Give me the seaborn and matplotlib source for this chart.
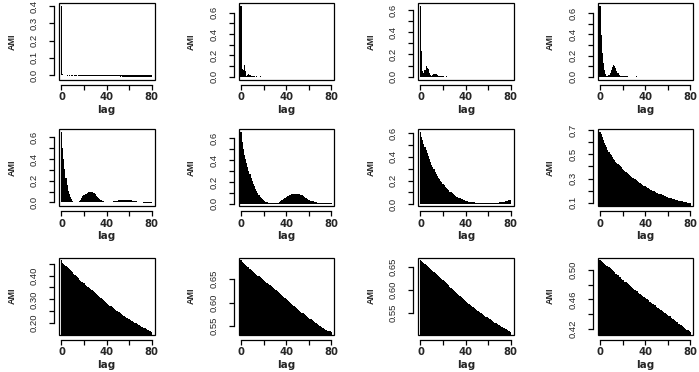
import pandas as pd
import seaborn as sns
import matplotlib.pyplot as plt
from matplotlib.patches import Rectangle

lags = list(range(81))

ami_1 = [0.404, 0.006, 0.002, -0.001, -0.002, -0.003, -0.002, -0.003, -0.002, -0.003,
         -0.003, -0.002, -0.003, -0.003, -0.002, -0.003, -0.004, -0.003, -0.003, -0.004,
         -0.003, -0.004, -0.003, -0.004, -0.004, -0.003, -0.004, -0.004, -0.005, -0.004,
         -0.004, -0.005, -0.004, -0.005, -0.005, -0.004, -0.005, -0.005, -0.006, -0.005,
         -0.006, -0.006, -0.005, -0.006, -0.007, -0.006, -0.007, -0.007, -0.008, -0.007,
         -0.008, -0.008, -0.009, -0.008, -0.009, -0.009, -0.010, -0.009, -0.010, -0.010,
         -0.010, -0.011, -0.010, -0.011, -0.011, -0.010, -0.011, -0.012, -0.011, -0.011,
         -0.012, -0.011, -0.012, -0.012, -0.011, -0.012, -0.012, -0.011, -0.012, -0.012,
         -0.010]
ami_2 = [0.667, 0.070, 0.060, 0.110, 0.050, 0.008, 0.012, 0.022, 0.020, 0.006,
         0.003, 0.002, 0.002, 0.001, 0.002, 0.001, 0.001, 0.002, 0.001, 0.001,
         0.001, 0.001, 0.000, 0.001, 0.001, 0.000, 0.001, 0.000, 0.001, 0.000,
         0.000, 0.001, 0.000, 0.000, 0.001, 0.000, 0.000, 0.000, 0.001, 0.000,
         0.000, 0.000, 0.000, 0.001, 0.000, 0.000, 0.000, 0.000, -0.001, 0.000,
         -0.001, -0.002, -0.003, -0.003, -0.004, -0.003, -0.004, -0.004, -0.003, -0.004,
         -0.004, -0.003, -0.004, -0.004, -0.004, -0.003, -0.004, -0.004, -0.004, -0.003,
         -0.004, -0.004, -0.003, -0.004, -0.004, -0.003, -0.004, -0.004, -0.004, -0.003,
         -0.003]
ami_3 = [0.640, 0.230, 0.053, 0.035, 0.060, 0.095, 0.080, 0.065, 0.030, 0.012,
         0.010, 0.015, 0.022, 0.024, 0.022, 0.018, 0.010, 0.005, 0.003, 0.002,
         0.002, 0.001, 0.001, 0.002, 0.001, 0.001, 0.001, 0.000, 0.001, 0.000,
         0.001, 0.000, 0.000, 0.001, 0.000, 0.000, 0.000, 0.000, 0.000, 0.000,
         0.000, 0.000, 0.000, 0.000, 0.000, 0.000, 0.000, 0.000, -0.001, -0.002,
         -0.003, -0.004, -0.004, -0.004, -0.004, -0.004, -0.004, -0.004, -0.004, -0.004,
         -0.004, -0.004, -0.004, -0.003, -0.002, 0.000, 0.000, 0.000, 0.000, 0.000,
         0.000, -0.002, -0.003, -0.003, -0.002, 0.000, 0.000, 0.000, 0.000, 0.001,
         0.001]
ami_4 = [0.672, 0.390, 0.228, 0.135, 0.060, 0.030, 0.012, 0.008, 0.020, 0.040,
         0.065, 0.090, 0.110, 0.105, 0.085, 0.058, 0.032, 0.014, 0.006, 0.005,
         0.006, 0.008, 0.009, 0.008, 0.006, 0.003, 0.002, 0.002, 0.001, 0.001,
         0.001, 0.002, 0.004, 0.002, 0.001, 0.000, 0.000, 0.000, 0.000, 0.000,
         0.000, 0.000, 0.000, 0.000, 0.000, 0.000, 0.000, 0.000, 0.000, 0.000,
         0.000, 0.000, 0.000, 0.000, 0.000, 0.000, 0.000, -0.002, -0.003, -0.003,
         -0.002, 0.000, 0.000, 0.000, 0.000, 0.000, 0.000, 0.000, 0.000, 0.000,
         0.000, 0.000, 0.000, 0.000, 0.000, 0.000, -0.002, -0.003, -0.003, -0.002,
         0.000]
ami_5 = [0.651, 0.500, 0.400, 0.310, 0.230, 0.160, 0.110, 0.076, 0.050, 0.030,
         0.015, 0.008, 0.004, 0.002, 0.002, 0.005, 0.012, 0.025, 0.040, 0.055,
         0.066, 0.075, 0.082, 0.088, 0.093, 0.096, 0.097, 0.095, 0.090, 0.083,
         0.074, 0.063, 0.052, 0.040, 0.030, 0.022, 0.015, 0.010, 0.006, 0.003,
         0.002, 0.002, 0.003, 0.004, 0.006, 0.008, 0.010, 0.012, 0.014, 0.016,
         0.018, 0.020, 0.021, 0.022, 0.023, 0.024, 0.024, 0.025, 0.025, 0.024,
         0.023, 0.022, 0.020, 0.018, 0.015, 0.012, 0.009, 0.007, 0.005, 0.003,
         0.002, 0.001, 0.000, -0.002, -0.004, -0.006, -0.008, -0.009, -0.009, -0.008,
         -0.006]
ami_6 = [0.660, 0.570, 0.500, 0.450, 0.410, 0.375, 0.340, 0.300, 0.270, 0.240,
         0.210, 0.185, 0.160, 0.135, 0.114, 0.095, 0.077, 0.062, 0.050, 0.039,
         0.030, 0.024, 0.018, 0.013, 0.010, 0.007, 0.005, 0.003, 0.002, 0.002,
         0.003, 0.005, 0.007, 0.010, 0.015, 0.022, 0.030, 0.038, 0.046, 0.054,
         0.061, 0.068, 0.074, 0.079, 0.083, 0.086, 0.089, 0.091, 0.092, 0.092,
         0.091, 0.088, 0.085, 0.080, 0.075, 0.069, 0.062, 0.055, 0.049, 0.043,
         0.037, 0.032, 0.028, 0.024, 0.020, 0.017, 0.014, 0.012, 0.010, 0.009,
         0.008, 0.007, 0.006, 0.006, 0.005, 0.005, 0.005, 0.004, 0.004, 0.003,
         0.003]
ami_7 = [0.610, 0.570, 0.540, 0.510, 0.480, 0.455, 0.430, 0.405, 0.385, 0.360,
         0.335, 0.315, 0.295, 0.275, 0.258, 0.242, 0.226, 0.212, 0.198, 0.185,
         0.172, 0.160, 0.148, 0.137, 0.127, 0.117, 0.108, 0.100, 0.092, 0.085,
         0.078, 0.072, 0.066, 0.060, 0.055, 0.050, 0.046, 0.042, 0.038, 0.035,
         0.032, 0.029, 0.026, 0.024, 0.022, 0.020, 0.019, 0.017, 0.016, 0.015,
         0.014, 0.013, 0.012, 0.011, 0.010, 0.010, 0.009, 0.009, 0.008, 0.008,
         0.008, 0.008, 0.009, 0.009, 0.010, 0.011, 0.012, 0.013, 0.014, 0.015,
         0.016, 0.018, 0.019, 0.021, 0.023, 0.025, 0.028, 0.031, 0.034, 0.037,
         0.041]
ami_8 = [0.686, 0.665, 0.642, 0.618, 0.597, 0.578, 0.559, 0.540, 0.522, 0.507,
         0.492, 0.477, 0.463, 0.451, 0.440, 0.430, 0.420, 0.410, 0.401, 0.392,
         0.383, 0.374, 0.365, 0.356, 0.347, 0.338, 0.329, 0.322, 0.315, 0.308,
         0.301, 0.294, 0.287, 0.280, 0.273, 0.266, 0.260, 0.254, 0.248, 0.242,
         0.236, 0.230, 0.224, 0.219, 0.214, 0.209, 0.204, 0.199, 0.194, 0.190,
         0.185, 0.181, 0.177, 0.173, 0.169, 0.165, 0.161, 0.157, 0.153, 0.150,
         0.146, 0.143, 0.140, 0.137, 0.134, 0.131, 0.129, 0.126, 0.124, 0.121,
         0.119, 0.117, 0.114, 0.112, 0.110, 0.107, 0.105, 0.103, 0.101, 0.098,
         0.095]
ami_9 = [0.464, 0.455, 0.448, 0.443, 0.439, 0.435, 0.431, 0.427, 0.423, 0.418,
         0.413, 0.408, 0.403, 0.398, 0.393, 0.388, 0.383, 0.379, 0.375, 0.371,
         0.367, 0.362, 0.358, 0.354, 0.350, 0.346, 0.342, 0.338, 0.334, 0.330,
         0.326, 0.322, 0.318, 0.314, 0.310, 0.306, 0.302, 0.298, 0.294, 0.290,
         0.286, 0.282, 0.278, 0.274, 0.271, 0.267, 0.263, 0.259, 0.256, 0.252,
         0.249, 0.245, 0.242, 0.239, 0.235, 0.232, 0.229, 0.225, 0.222, 0.219,
         0.216, 0.213, 0.210, 0.207, 0.204, 0.201, 0.199, 0.196, 0.193, 0.191,
         0.188, 0.185, 0.183, 0.180, 0.178, 0.175, 0.173, 0.171, 0.168, 0.166,
         0.163]
ami_10 = [0.689, 0.686, 0.684, 0.682, 0.680, 0.678, 0.676, 0.674, 0.671, 0.669,
          0.667, 0.665, 0.663, 0.661, 0.659, 0.657, 0.655, 0.654, 0.652, 0.650,
          0.648, 0.646, 0.644, 0.642, 0.640, 0.638, 0.636, 0.634, 0.632, 0.630,
          0.628, 0.626, 0.624, 0.622, 0.620, 0.618, 0.616, 0.614, 0.611, 0.609,
          0.607, 0.605, 0.603, 0.601, 0.599, 0.597, 0.595, 0.593, 0.591, 0.589,
          0.587, 0.585, 0.583, 0.581, 0.579, 0.578, 0.576, 0.574, 0.572, 0.570,
          0.568, 0.566, 0.565, 0.563, 0.561, 0.559, 0.557, 0.556, 0.554, 0.552,
          0.551, 0.549, 0.547, 0.546, 0.544, 0.543, 0.542, 0.541, 0.540, 0.539,
          0.538]
ami_11 = [0.664, 0.662, 0.660, 0.658, 0.656, 0.654, 0.652, 0.650, 0.648, 0.646,
          0.644, 0.642, 0.639, 0.637, 0.635, 0.632, 0.630, 0.628, 0.626, 0.623,
          0.621, 0.619, 0.617, 0.614, 0.612, 0.610, 0.607, 0.605, 0.603, 0.600,
          0.598, 0.596, 0.593, 0.591, 0.589, 0.587, 0.585, 0.583, 0.581, 0.578,
          0.576, 0.574, 0.572, 0.570, 0.568, 0.566, 0.564, 0.562, 0.560, 0.558,
          0.557, 0.555, 0.553, 0.551, 0.549, 0.548, 0.546, 0.544, 0.542, 0.541,
          0.539, 0.537, 0.536, 0.534, 0.533, 0.531, 0.529, 0.528, 0.526, 0.525,
          0.523, 0.522, 0.520, 0.519, 0.517, 0.516, 0.515, 0.513, 0.512, 0.510,
          0.509]
ami_12 = [0.513, 0.512, 0.511, 0.509, 0.508, 0.507, 0.506, 0.505, 0.504, 0.503,
          0.501, 0.500, 0.498, 0.497, 0.495, 0.494, 0.493, 0.491, 0.490, 0.488,
          0.487, 0.486, 0.484, 0.483, 0.482, 0.481, 0.479, 0.478, 0.477, 0.476,
          0.474, 0.473, 0.472, 0.471, 0.469, 0.468, 0.467, 0.466, 0.465, 0.463,
          0.462, 0.461, 0.460, 0.459, 0.457, 0.456, 0.455, 0.454, 0.453, 0.452,
          0.450, 0.449, 0.448, 0.447, 0.446, 0.445, 0.443, 0.442, 0.441, 0.440,
          0.439, 0.438, 0.437, 0.435, 0.434, 0.433, 0.432, 0.431, 0.430, 0.429,
          0.427, 0.426, 0.425, 0.424, 0.423, 0.422, 0.420, 0.419, 0.418, 0.417,
          0.416]

panels = [ami_1, ami_2, ami_3, ami_4, ami_5, ami_6,
          ami_7, ami_8, ami_9, ami_10, ami_11, ami_12]

# y ticks per panel (R drops labels that would overlap)
tenths = [0.0, 0.1, 0.2, 0.3, 0.4, 0.5, 0.6]
tenths_lab = ["0.0", "", "0.2", "", "0.4", "", "0.6"]
yticks = [[0.0, 0.1, 0.2, 0.3, 0.4]] + [tenths] * 6 + [
    [0.1, 0.2, 0.3, 0.4, 0.5, 0.6, 0.7],
    [0.20, 0.25, 0.30, 0.35, 0.40, 0.45],
    [0.55, 0.60, 0.65],
    [0.55, 0.60, 0.65],
    [0.42, 0.44, 0.46, 0.48, 0.50],
]
ylabels = [["0.0", "0.1", "0.2", "0.3", "0.4"]] + [tenths_lab] * 6 + [
    ["0.1", "", "0.3", "", "0.5", "", "0.7"],
    ["0.20", "", "0.30", "", "0.40", ""],
    ["0.55", "0.60", "0.65"],
    ["0.55", "0.60", "0.65"],
    ["0.42", "", "0.46", "", "0.50"],
]
xticks = [0, 20, 40, 60, 80]
xlabels = ["0", "", "40", "", "80"]

sns.set_style("white")
plt.rcParams["font.family"] = ["Liberation Sans", "DejaVu Sans"]

W, H = 699, 372
fig = plt.figure(figsize=(W / 100, H / 100), dpi=100)

lefts = [59, 238.5, 418, 597.5]
tops = [2.7, 129, 257.5]
bw, bh = 95.5, 77.3

for i, vals in enumerate(panels):
    r, c = divmod(i, 4)
    ax = fig.add_axes([lefts[c] / W, 1 - (tops[r] + bh) / H, bw / W, bh / H])
    df = pd.DataFrame({"lag": lags, "AMI": vals})
    sns.barplot(df, x="lag", y="AMI", native_scale=True, width=1, color="black",
                saturation=1, linewidth=0, errorbar=None, ax=ax)

    lo, hi = min(vals), max(vals)
    ext = 0.04 * (hi - lo)
    ax.set_xlim(-2.2, 82.4)
    ax.set_ylim(lo - ext, hi + ext)

    ax.set_xticks(xticks)
    ax.set_xticklabels(xlabels)
    ax.set_yticks(yticks[i])
    ax.set_yticklabels(ylabels[i])

    for s in ax.spines.values():
        s.set_visible(False)
    for s in ["left", "bottom"]:
        ax.spines[s].set_visible(True)
        ax.spines[s].set_color("black")
        ax.spines[s].set_linewidth(0.9)
        ax.spines[s].set_position(("outward", 3.6))
    ax.spines["left"].set_bounds(yticks[i][0], yticks[i][-1])
    ax.spines["bottom"].set_bounds(0, 80)
    ax.add_patch(Rectangle((0, 0), 1, 1, transform=ax.transAxes, fill=False,
                           lw=0.9, edgecolor="black", clip_on=False))

    ax.tick_params(axis="both", direction="out", length=3.4, width=0.9,
                   color="black", left=True, bottom=True)
    ax.tick_params(axis="y", labelsize=6.8, pad=7.5, labelrotation=90)
    ax.tick_params(axis="x", labelsize=7.2, pad=2)
    for lbl in ax.get_xticklabels():
        lbl.set_family("DejaVu Sans")
        lbl.set_weight("bold")
    for lbl in ax.get_yticklabels():
        lbl.set_va("center")

    ax.set_xlabel("lag", fontsize=7.5, fontweight="bold", family="DejaVu Sans")
    ax.xaxis.set_label_coords(0.5, -30 / bh)
    ax.xaxis.label.set_va("center")
    ax.set_ylabel("AMI", fontsize=6.5, fontweight="bold")
    ax.yaxis.set_label_coords(-47 / bw, 0.5)
    ax.yaxis.label.set_va("center")

fig.savefig("out.png", dpi=100)
